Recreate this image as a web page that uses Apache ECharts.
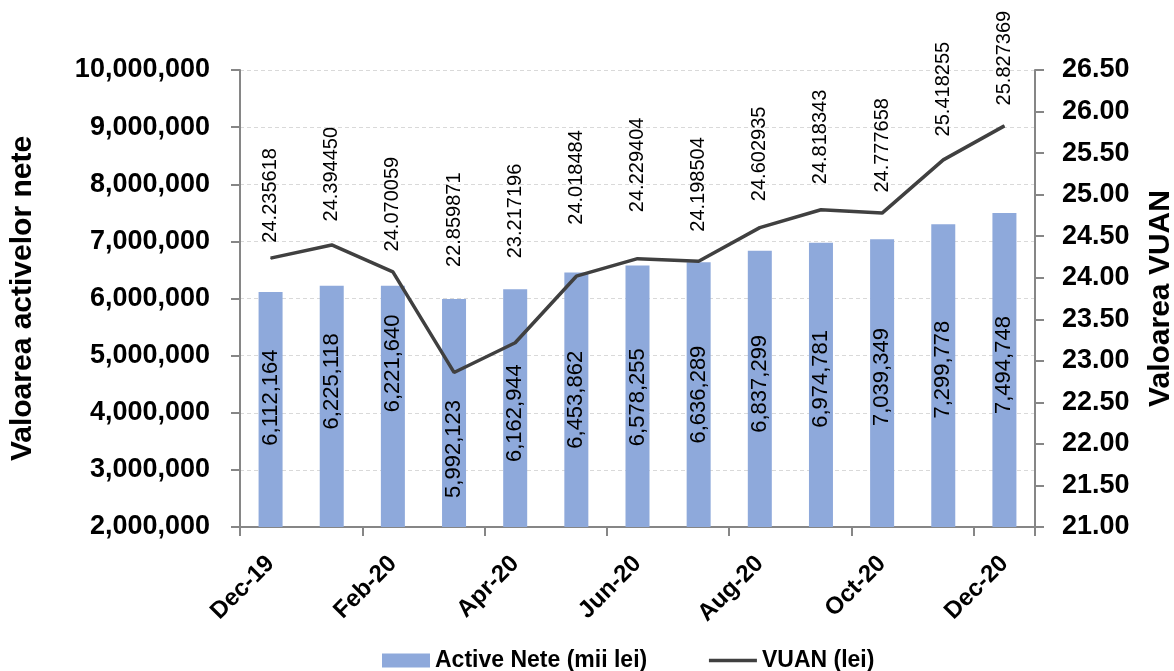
<!DOCTYPE html>
<html>
<head>
<meta charset="utf-8">
<script src="https://cdn.jsdelivr.net/npm/echarts@6/dist/echarts.min.js"></script>
<style>
  html, body { margin: 0; padding: 0; background: #ffffff; }
  #chart { width: 1174px; height: 671px; }
</style>
</head>
<body>
<div id="chart"></div>
<script>
// ---- data ----
const categories = ['Dec-19', 'Jan-20', 'Feb-20', 'Mar-20', 'Apr-20', 'May-20', 'Jun-20',
                    'Jul-20', 'Aug-20', 'Sep-20', 'Oct-20', 'Nov-20', 'Dec-20'];
const activeNete = [6112164, 6225118, 6221640, 5992123, 6162944, 6453862, 6578255,
                    6636289, 6837299, 6974781, 7039349, 7299778, 7494748];
const vuan = [24.235618, 24.394450, 24.070059, 22.859871, 23.217196, 24.018484, 24.229404,
              24.198504, 24.602935, 24.818343, 24.777658, 25.418255, 25.827369];
const seriesNames = ['Active Nete (mii lei)', 'VUAN (lei)'];
const axisNames = ['Valoarea activelor nete', 'Valoarea VUAN'];

// ---- label layout (style only) ----
const barLabelShift = [-12, -25, -43, 36, 5, 0, 1, 0, -5, -6, -6, -6, -5];
const lineLabelGap = [15, 23, 20, 105, 84, 51, 46, 29, 26, 25, 20, 23, 20];

const FONT = 'Liberation Sans';
const fmtInt = v => Math.round(v).toLocaleString('en-US');

const chart = echarts.init(document.getElementById('chart'), null, { renderer: 'canvas' });

chart.setOption({
  animation: false,
  backgroundColor: '#ffffff',
  textStyle: { fontFamily: FONT, color: '#000' },
  grid: { left: 240, right: 139, top: 70, bottom: 144, containLabel: false, outerBoundsMode: 'none' },
  legend: {
    left: 377,
    top: 644,
    itemWidth: 48,
    itemHeight: 14,
    itemGap: 60,
    textStyle: { fontFamily: FONT, fontSize: 23, fontWeight: 'bold', color: '#000' },
    data: [
      { name: seriesNames[0], icon: 'rect' },
      {
        name: seriesNames[1],
        itemStyle: { color: 'rgba(0,0,0,0)', borderWidth: 0, opacity: 0 },
        lineStyle: { color: '#404040', width: 3.5 }
      }
    ]
  },
  xAxis: {
    type: 'category',
    data: categories,
    boundaryGap: true,
    axisLine: { lineStyle: { color: '#868686', width: 2 } },
    axisTick: { show: true, interval: 1, length: 9, lineStyle: { color: '#868686', width: 2 } },
    axisLabel: {
      interval: 1, rotate: 45, margin: 33,
      fontFamily: FONT, fontSize: 24, fontWeight: 'bold', color: '#000'
    },
    splitLine: { show: false }
  },
  yAxis: [
    {
      type: 'value',
      min: 2000000, max: 10000000, interval: 1000000,
      name: axisNames[0],
      nameLocation: 'middle',
      nameRotate: 90,
      nameGap: 202,
      nameTextStyle: { fontFamily: FONT, fontSize: 30, fontWeight: 'bold', color: '#000' },
      axisLine: { show: true, lineStyle: { color: '#868686', width: 2 } },
      axisTick: { show: true, length: 9, lineStyle: { color: '#868686', width: 2 } },
      axisLabel: {
        margin: 30, fontFamily: FONT, fontSize: 27, fontWeight: 'bold', color: '#000',
        formatter: v => fmtInt(v)
      },
      splitLine: { show: true, lineStyle: { color: '#d9d9d9', width: 1, type: [4, 3] } }
    },
    {
      type: 'value',
      min: 21, max: 26.5, interval: 0.5,
      name: axisNames[1],
      nameLocation: 'middle',
      nameRotate: 90,
      nameGap: 111,
      nameTextStyle: { fontFamily: FONT, fontSize: 30, fontWeight: 'bold', color: '#000' },
      axisLine: { show: true, lineStyle: { color: '#868686', width: 2 } },
      axisTick: { show: true, length: 9, lineStyle: { color: '#868686', width: 2 } },
      axisLabel: {
        margin: 27, fontFamily: FONT, fontSize: 27, fontWeight: 'bold', color: '#000',
        formatter: v => v.toFixed(2)
      },
      splitLine: { show: false }
    }
  ],
  series: [
    {
      name: seriesNames[0],
      type: 'bar',
      yAxisIndex: 0,
      barWidth: 24,
      itemStyle: { color: '#8EA9DB' },
      label: {
        show: true,
        position: 'inside',
        rotate: 90,
        fontFamily: FONT, fontSize: 22, color: '#000',
        formatter: p => fmtInt(p.value)
      },
      data: activeNete.map((v, i) => ({ value: v, label: { offset: [-barLabelShift[i], 0] } })),
      z: 2
    },
    {
      name: seriesNames[1],
      type: 'line',
      yAxisIndex: 1,
      symbol: 'circle',
      symbolSize: 1,
      showSymbol: true,
      showAllSymbol: true,
      lineStyle: { color: '#404040', width: 3.5 },
      itemStyle: { color: '#404040' },
      label: {
        show: true,
        position: 'top',
        rotate: 90,
        align: 'left',
        verticalAlign: 'middle',
        fontFamily: FONT, fontSize: 20, color: '#000',
        formatter: p => p.value.toFixed(6)
      },
      labelLayout: { hideOverlap: false },
      data: vuan.map((v, i) => ({ value: v, label: { distance: lineLabelGap[i] } })),
      z: 3
    }
  ]
});
</script>
</body>
</html>
